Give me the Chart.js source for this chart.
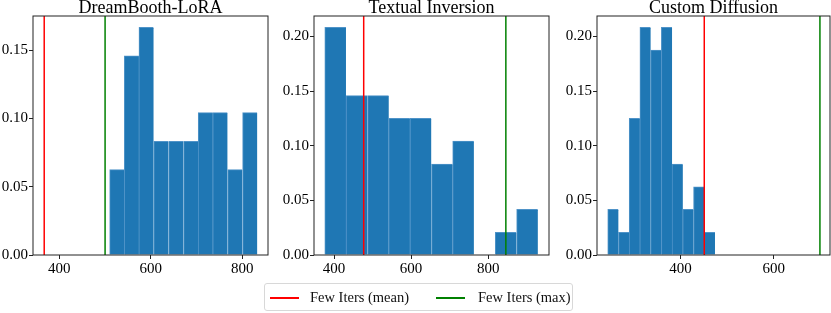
<!DOCTYPE html>
<html>
<head>
<meta charset="utf-8">
<script src="https://cdn.jsdelivr.net/npm/chart.js@4"></script>
<style>
  body { margin: 0; background: #fff; }
  #wrap { position: relative; width: 831px; height: 313px; overflow: hidden; font-family: "Liberation Serif", serif; }
  canvas { position: absolute; top: 0; }
  #legend { position: absolute; left: 264px; top: 283px; width: 307px; height: 26px;
            border: 1px solid #d8d8d8; border-radius: 3px; font-size: 14.5px; color: #111; }
  .item { position: absolute; top: 4px; line-height: 18px; white-space: nowrap; }
  .swatch { position: absolute; top: 13px; height: 1.5px; width: 29px; }
</style>
</head>
<body>
<div id="wrap">
  <canvas id="c1"></canvas>
  <canvas id="c2"></canvas>
  <canvas id="c3"></canvas>
  <div id="legend">
    <div class="swatch" style="left:5px;background:#ff0000"></div>
    <div class="item" style="left:45px">Few Iters (mean)</div>
    <div class="swatch" style="left:171px;background:#008000"></div>
    <div class="item" style="left:213px">Few Iters (max)</div>
  </div>
</div>
<script>
// DreamBooth-LoRA
const loraEdges = [510, 542, 574, 606, 639, 671, 704, 735, 768, 800, 833];
const loraShare = [0.0625, 0.1458, 0.1667, 0.0833, 0.0833, 0.0833, 0.1042, 0.1042, 0.0625, 0.1042];
const loraMean = 367;
const loraMax = 500;

// Textual Inversion
const tiEdges = [376, 431, 487, 542, 597, 653, 708, 763, 818, 874, 929];
const tiShare = [0.2083, 0.1458, 0.1458, 0.125, 0.125, 0.0833, 0.1042, 0, 0.0208, 0.0417];
const tiMean = 477;
const tiMax = 846;

// Custom Diffusion
const cdEdges = [244, 267, 290, 313, 336, 359, 382, 405, 428, 451, 474];
const cdShare = [0.0417, 0.0208, 0.125, 0.2083, 0.1875, 0.2083, 0.0833, 0.0417, 0.0625, 0.0208];
const cdMean = 451;
const cdMax = 699;

const xTicksLora = [400, 600, 800];
const xTicksTi = [400, 600, 800];
const xTicksCd = [400, 600];
const yTicksLow = [0, 0.05, 0.10, 0.15];
const yTicksHigh = [0, 0.05, 0.10, 0.15, 0.20];

const serif = 'Liberation Serif';

// draw the box round the plot area
const frame = {
  id: 'frame',
  afterDraw(chart) {
    const a = chart.chartArea, ctx = chart.ctx;
    ctx.save();
    ctx.strokeStyle = '#222';
    ctx.lineWidth = 1;
    ctx.strokeRect(a.left, a.top, a.right - a.left, a.bottom - a.top);
    ctx.restore();
  }
};

// plotLeft/plotRight: where the axes box sits on the page
function makePanel(id, plotLeft, plotRight, yWidth, title, edges, share, mean, max,
                   xMin, xMax, yMax, xTicks, yTicks) {
  const canvas = document.getElementById(id);
  const width = (plotRight - plotLeft) + 2 * yWidth;
  canvas.style.left = (plotLeft - yWidth) + 'px';
  canvas.width = width;
  canvas.height = 280;
  canvas.style.width = width + 'px';
  canvas.style.height = '280px';

  const bars = share.map((v, i) => ({ x: (edges[i] + edges[i + 1]) / 2, y: v }));

  new Chart(canvas, {
    type: 'bar',
    data: {
      datasets: [
        { type: 'line', data: [{ x: mean, y: 0 }, { x: mean, y: yMax }], borderColor: '#ff0000',
          borderWidth: 1.5, pointRadius: 0, order: 0 },
        { type: 'line', data: [{ x: max, y: 0 }, { x: max, y: yMax }], borderColor: '#008000',
          borderWidth: 1.5, pointRadius: 0, order: 0 },
        { type: 'bar', data: bars, backgroundColor: '#1f77b4', borderColor: '#4f93c8',
          borderWidth: { left: 1, top: 1, right: 0, bottom: 0 }, borderSkipped: false,
          barPercentage: 1, categoryPercentage: 1, grouped: false, order: 1 }
      ]
    },
    options: {
      responsive: false,
      animation: false,
      layout: { padding: { left: 0, right: yWidth, top: 0, bottom: 0 } },
      plugins: {
        legend: { display: false },
        tooltip: { enabled: false },
        title: { display: true, fullSize: false, text: title, color: '#000', padding: 0,
                 font: { family: serif, size: 18, weight: 'normal', lineHeight: '16px' } }
      },
      scales: {
        x: {
          type: 'linear', min: xMin, max: xMax, offset: false,
          grid: { display: true, drawOnChartArea: false, drawTicks: true, tickLength: 4,
                  tickColor: '#222', offset: false },
          border: { display: false },
          ticks: { color: '#000', font: { family: serif, size: 15 }, padding: 1, maxRotation: 0 },
          afterBuildTicks: s => { s.ticks = xTicks.map(v => ({ value: v })); },
          afterFit: s => { s.height = 25; }
        },
        y: {
          min: 0, max: yMax,
          grid: { display: true, drawOnChartArea: false, drawTicks: true, tickLength: 4,
                  tickColor: '#222' },
          border: { display: false },
          ticks: { color: '#000', font: { family: serif, size: 15 }, padding: 1,
                   callback: v => v.toFixed(2) },
          afterBuildTicks: s => { s.ticks = yTicks.map(v => ({ value: v })); },
          afterFit: s => { s.width = yWidth; }
        }
      }
    },
    plugins: [frame]
  });
}

makePanel('c1', 33, 268, 33, 'DreamBooth-LoRA', loraEdges, loraShare, loraMean, loraMax,
          342.5, 856, 0.175, xTicksLora, yTicksLow);
makePanel('c2', 314, 549, 38, 'Textual Inversion', tiEdges, tiShare, tiMean, tiMax,
          348, 958, 0.21875, xTicksTi, yTicksHigh);
makePanel('c3', 597, 830, 40, 'Custom Diffusion', cdEdges, cdShare, cdMean, cdMax,
          221, 720.6, 0.21875, xTicksCd, yTicksHigh);
</script>
</body>
</html>
